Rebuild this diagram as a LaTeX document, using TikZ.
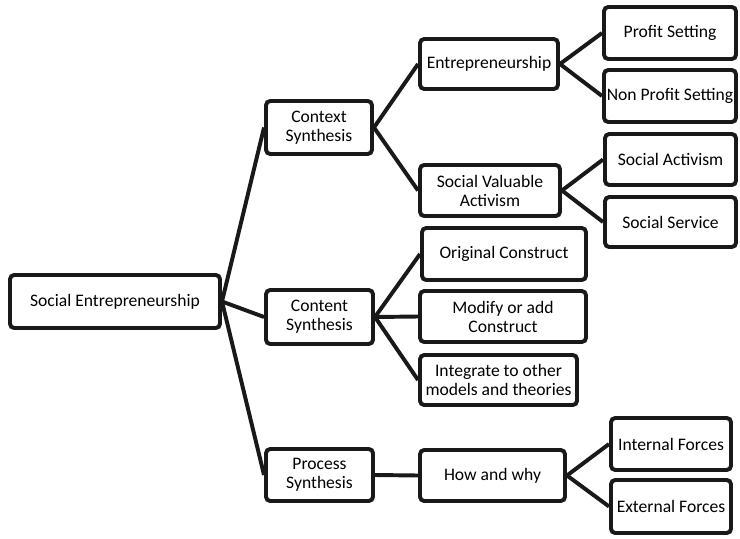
\documentclass[tikz,border=0pt]{standalone}
\usepackage{fontspec}
\setmainfont{Carlito}
\usepackage{tikz}
\usetikzlibrary{positioning}

\begin{document}
\begin{tikzpicture}[
    x=0.025cm, y=-0.025cm,
    box/.style={rectangle, draw=black!90, line width=2.8pt, rounded corners=3pt, fill=white, align=center, font=\fontsize{12.5}{13.5}\selectfont, inner sep=1pt},
    link/.style={line width=2.8pt, black!90},
]
\useasboundingbox (0,0) rectangle (740,538);

% Root and first level
\node[box, minimum width=210*0.025cm, minimum height=53*0.025cm] (root) at (115,301.5) {Social Entrepreneurship};
\node[box, minimum width=106*0.025cm, minimum height=53*0.025cm] (context) at (319,127.5) {Context\\Synthesis};
\node[box, minimum width=107*0.025cm, minimum height=54*0.025cm] (content) at (319.5,317) {Content\\Synthesis};
\node[box, minimum width=107*0.025cm, minimum height=52*0.025cm] (process) at (319.5,475) {Process\\Synthesis};

% Second level
\node[box, minimum width=138*0.025cm, minimum height=50*0.025cm] (entre) at (489,64) {Entrepreneurship};
\node[box, minimum width=140*0.025cm, minimum height=51*0.025cm] (valuable) at (490,190.5) {Social Valuable\\Activism};
\node[box, minimum width=164*0.025cm, minimum height=52*0.025cm] (original) at (504,254) {Original Construct};
\node[box, minimum width=166*0.025cm, minimum height=51*0.025cm] (modify) at (503,316.5) {Modify or add\\Construct};
\node[box, minimum width=157*0.025cm, minimum height=50*0.025cm] (integrate) at (498.5,380) {Integrate to other\\models and theories};
\node[box, minimum width=145*0.025cm, minimum height=51*0.025cm] (howwhy) at (492.5,475.5) {How and why};

% Third level
\node[box, minimum width=132*0.025cm, minimum height=52*0.025cm] (profit) at (670,33) {Profit Setting};
\node[box, minimum width=132*0.025cm, minimum height=52*0.025cm] (nonprofit) at (670,96) {Non Profit Setting};
\node[box, minimum width=131*0.025cm, minimum height=51*0.025cm] (activism) at (670.5,159.5) {Social Activism};
\node[box, minimum width=131*0.025cm, minimum height=50*0.025cm] (service) at (670.5,222) {Social Service};
\node[box, minimum width=120*0.025cm, minimum height=52*0.025cm] (internal) at (671,444) {Internal Forces};
\node[box, minimum width=120*0.025cm, minimum height=53*0.025cm] (external) at (671,506.5) {External Forces};

% Connectors
\draw[link] (root.east) -- (context.west);
\draw[link] (root.east) -- (content.west);
\draw[link] (root.east) -- (process.west);
\draw[link] (context.east) -- (entre.west);
\draw[link] (context.east) -- (valuable.west);
\draw[link] (entre.east) -- (profit.west);
\draw[link] (entre.east) -- (nonprofit.west);
\draw[link] (valuable.east) -- (activism.west);
\draw[link] (valuable.east) -- (service.west);
\draw[link] (content.east) -- (original.west);
\draw[link] (content.east) -- (modify.west);
\draw[link] (content.east) -- (integrate.west);
\draw[link] (process.east) -- (howwhy.west);
\draw[link] (howwhy.east) -- (internal.west);
\draw[link] (howwhy.east) -- (external.west);

\end{tikzpicture}
\end{document}
